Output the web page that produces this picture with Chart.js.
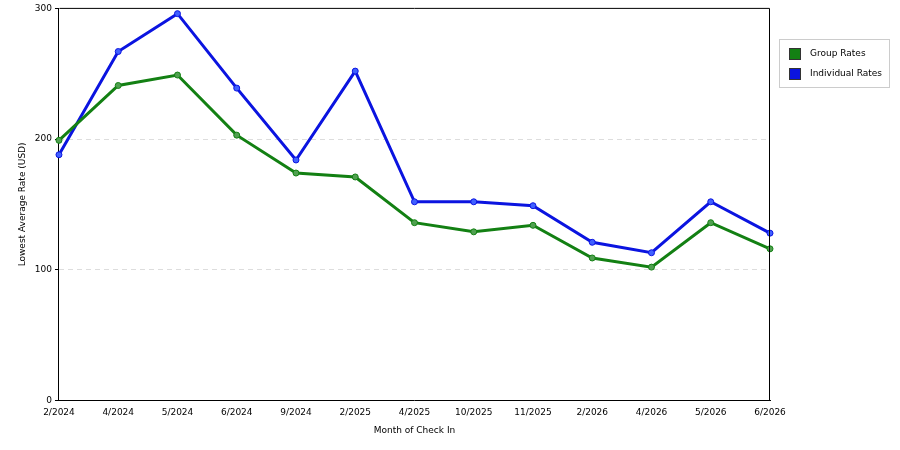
<!DOCTYPE html>
<html><head><meta charset="utf-8">
<script src="https://cdn.jsdelivr.net/npm/chart.js@4"></script>
<style>body{margin:0;background:#fff}#w{width:900px;height:450px}</style>
</head><body><div id="w"><canvas id="c"></canvas></div>
<script>
const categories=["2/2024","4/2024","5/2024","6/2024","9/2024","2/2025","4/2025","10/2025","11/2025","2/2026","4/2026","5/2026","6/2026"];
const groupRates=[199,241,249,203,174,171,136,129,134,109,102,136,116];
const individualRates=[188,267,296,239,184,252,152,152,149,121,113,152,128];
const yTicks=[0,100,200,300];
const seriesNames=["Group Rates","Individual Rates"];
const colors=["#138013","#0b14e0"];
const F='"DejaVu Sans", Verdana, sans-serif';
const legendPlugin={id:'lg',afterDraw(ch){const c=ch.ctx;c.save();
c.strokeStyle='#ccc';c.lineWidth=1;c.strokeRect(779.5,39.5,110,48);
c.font='9px '+F;c.textBaseline='middle';
seriesNames.forEach((n,i)=>{const y=54+i*20;c.fillStyle=colors[i];c.fillRect(789,y-6,12,12);c.strokeStyle='#333';c.strokeRect(789.5,y-5.5,11,11);c.fillStyle='#000';c.fillText(n,810,y);});
c.restore();}};
new Chart(document.getElementById('c'),{type:'line',
data:{labels:categories,datasets:[groupRates,individualRates].map((d,i)=>({label:seriesNames[i],data:d,borderColor:colors[i],backgroundColor:colors[i],borderWidth:3,pointRadius:3,pointBorderColor:colors[i],pointBackgroundColor:i?'#4060ff':'#50a050',pointBorderWidth:1,tension:0}))},
options:{responsive:true,maintainAspectRatio:false,animation:false,
layout:{padding:{top:2,right:130,left:13,bottom:10}},
plugins:{legend:{display:false},tooltip:{enabled:false}},
scales:{x:{offset:false,grid:{display:false,drawTicks:true,tickLength:4},border:{color:'#000'},ticks:{color:'#000',font:{family:F,size:9},maxRotation:0,autoSkip:false},
title:{display:true,text:'Month of Check In',color:'#000',font:{family:F,size:9}}},
y:{min:0,max:300,afterBuildTicks:a=>{a.ticks=yTicks.map(v=>({value:v}));},
grid:{color:c=>(c.tick.value===0||c.tick.value===300)?'rgba(0,0,0,0)':'#ddd',tickLength:4,tickColor:'#000'},border:{color:'#000',dash:[5,4]},
ticks:{color:'#000',font:{family:F,size:9}},
title:{display:true,text:'Lowest Average Rate (USD)',color:'#000',font:{family:F,size:9}}}}},
plugins:[legendPlugin,{id:'frame',afterDraw(ch){const a=ch.chartArea,c=ch.ctx;c.save();c.strokeStyle='#000';c.lineWidth=1;c.beginPath();c.moveTo(a.left+.5,a.top);c.lineTo(a.right-.5+0,a.top);c.moveTo(a.right-.5,a.top);c.lineTo(a.right-.5,a.bottom);c.stroke();c.restore();}}]
});
</script></body></html>
